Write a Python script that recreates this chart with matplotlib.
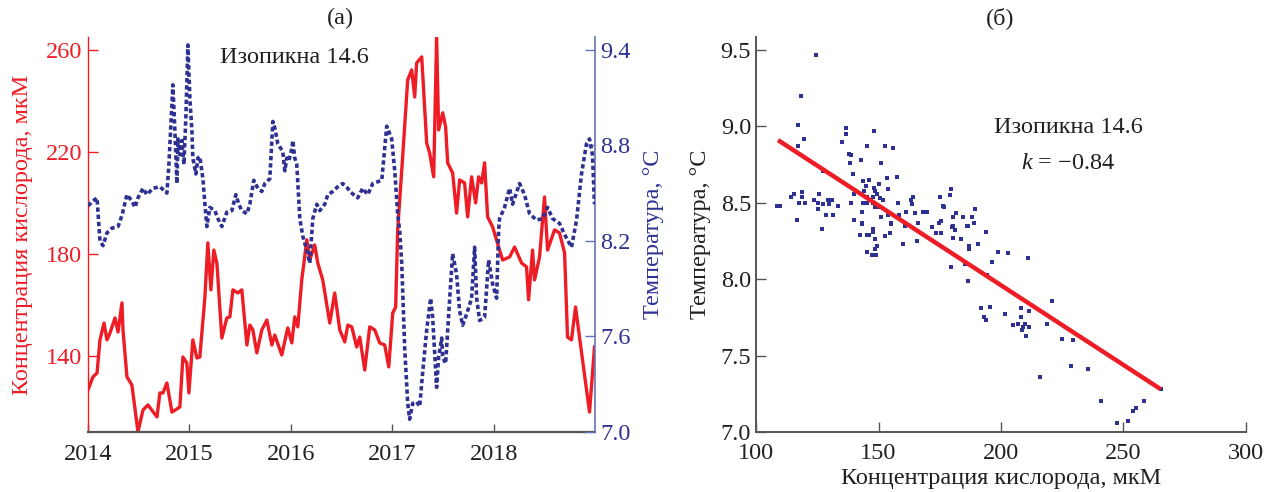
import matplotlib
matplotlib.use("Agg")
import matplotlib.pyplot as plt
from matplotlib import font_manager
import numpy as np

names = {f.name for f in font_manager.fontManager.ttflist}
serif_list = [n for n in ['Liberation Serif', 'Times New Roman', 'Nimbus Roman', 'DejaVu Serif'] if n in names]
plt.rcParams['font.family'] = 'serif'
plt.rcParams['font.serif'] = serif_list + ['DejaVu Serif']
plt.rcParams['mathtext.fontset'] = 'custom'
plt.rcParams['mathtext.rm'] = serif_list[0] if serif_list else 'DejaVu Serif'
plt.rcParams['mathtext.it'] = (serif_list[0] if serif_list else 'DejaVu Serif') + ':italic'

# ---------------- data ----------------
# (а) oxygen time series
oxy_year = [2014.000, 2014.049, 2014.089, 2014.118, 2014.158, 2014.187, 2014.217, 2014.266, 2014.296, 2014.335,
            2014.345, 2014.384, 2014.433, 2014.493, 2014.542, 2014.591, 2014.680, 2014.709, 2014.739, 2014.778,
            2014.828, 2014.906, 2014.936, 2014.975, 2014.995, 2015.034, 2015.074, 2015.103, 2015.153, 2015.182,
            2015.212, 2015.241, 2015.271, 2015.320, 2015.369, 2015.399, 2015.429, 2015.478, 2015.517, 2015.567,
            2015.596, 2015.626, 2015.665, 2015.714, 2015.764, 2015.813, 2015.842, 2015.911, 2015.970, 2016.010,
            2016.039, 2016.069, 2016.108, 2016.158, 2016.187, 2016.236, 2016.266, 2016.315, 2016.384, 2016.433,
            2016.483, 2016.532, 2016.562, 2016.601, 2016.650, 2016.680, 2016.729, 2016.778, 2016.828, 2016.877,
            2016.926, 2016.966, 2017.005, 2017.034, 2017.054, 2017.103, 2017.153, 2017.192, 2017.222, 2017.241,
            2017.291, 2017.340, 2017.369, 2017.409, 2017.438, 2017.458, 2017.498, 2017.527, 2017.547, 2017.596,
            2017.635, 2017.665, 2017.714, 2017.744, 2017.783, 2017.823, 2017.852, 2017.882, 2017.911, 2017.941,
            2017.990, 2018.059, 2018.089, 2018.158, 2018.207, 2018.276, 2018.325, 2018.345, 2018.384, 2018.404,
            2018.453, 2018.502, 2018.532, 2018.601, 2018.650, 2018.700, 2018.729, 2018.768, 2018.808, 2018.847,
            2018.946, 2018.995]
oxy_value = [126.7, 131.8, 133.3, 146.3, 152.9, 146.3, 149.0, 154.9, 149.4, 160.8,
             150.2, 131.8, 128.6, 110.2, 118.8, 120.8, 116.1, 125.5, 125.5, 129.4,
             118.0, 120.0, 139.6, 137.2, 125.5, 146.3, 139.2, 139.6, 163.1, 184.3,
             165.9, 181.5, 176.4, 147.0, 154.9, 155.3, 165.9, 164.7, 165.9, 144.3,
             152.1, 150.2, 141.2, 150.2, 154.1, 144.3, 148.2, 140.4, 151.0, 145.1,
             155.3, 151.4, 169.8, 185.5, 177.6, 183.5, 176.4, 169.8, 152.9, 164.7,
             150.2, 145.5, 152.1, 151.4, 143.5, 147.4, 134.5, 151.4, 150.2, 145.1,
             144.3, 135.7, 156.8, 159.2, 189.4, 218.0, 248.2, 252.1, 241.5, 254.8,
             257.2, 223.5, 219.6, 210.2, 265.0, 228.6, 235.3, 229.8, 215.7, 211.7,
             196.0, 209.0, 207.8, 194.5, 210.2, 200.0, 210.2, 207.8, 215.7, 194.5,
             190.6, 181.5, 177.6, 178.8, 182.7, 176.4, 174.9, 162.0, 181.5, 169.8,
             178.8, 202.3, 181.5, 189.4, 188.2, 180.4, 147.4, 146.3, 159.2, 147.4,
             118.0, 143.5]

# (а) temperature time series
temp_year = [2014.000, 2014.049, 2014.089, 2014.118, 2014.148, 2014.187, 2014.236, 2014.296, 2014.335, 2014.384,
             2014.433, 2014.463, 2014.493, 2014.542, 2014.581, 2014.640, 2014.709, 2014.778, 2014.798, 2014.828,
             2014.837, 2014.857, 2014.877, 2014.887, 2014.906, 2014.926, 2014.946, 2014.966, 2014.985, 2015.005,
             2015.025, 2015.034, 2015.064, 2015.084, 2015.103, 2015.133, 2015.153, 2015.172, 2015.202, 2015.251,
             2015.281, 2015.320, 2015.369, 2015.419, 2015.458, 2015.488, 2015.517, 2015.567, 2015.596, 2015.635,
             2015.675, 2015.714, 2015.744, 2015.793, 2015.823, 2015.842, 2015.872, 2015.921, 2015.941, 2015.961,
             2015.980, 2016.010, 2016.020, 2016.039, 2016.059, 2016.089, 2016.118, 2016.158, 2016.187, 2016.217,
             2016.256, 2016.286, 2016.335, 2016.365, 2016.414, 2016.463, 2016.512, 2016.562, 2016.581, 2016.660,
             2016.709, 2016.759, 2016.808, 2016.897, 2016.946, 2016.995, 2017.025, 2017.054, 2017.074, 2017.094,
             2017.123, 2017.153, 2017.172, 2017.202, 2017.241, 2017.271, 2017.300, 2017.340, 2017.379, 2017.399,
             2017.438, 2017.458, 2017.488, 2017.498, 2017.527, 2017.567, 2017.596, 2017.635, 2017.665, 2017.695,
             2017.734, 2017.783, 2017.813, 2017.833, 2017.862, 2017.911, 2017.951, 2017.990, 2018.030, 2018.049,
             2018.059, 2018.108, 2018.158, 2018.187, 2018.256, 2018.305, 2018.355, 2018.424, 2018.483, 2018.532,
             2018.581, 2018.650, 2018.700, 2018.768, 2018.818, 2018.867, 2018.916, 2018.946, 2018.975, 2018.995]
temp_value = [8.42, 8.45, 8.47, 8.20, 8.17, 8.25, 8.28, 8.29, 8.36, 8.49,
              8.45, 8.41, 8.47, 8.53, 8.49, 8.53, 8.54, 8.50, 8.68, 9.06,
              9.18, 8.89, 8.56, 8.84, 8.74, 8.83, 8.68, 8.99, 9.43, 9.09,
              8.89, 8.72, 8.62, 8.72, 8.73, 8.59, 8.43, 8.29, 8.41, 8.39,
              8.34, 8.29, 8.38, 8.39, 8.49, 8.43, 8.39, 8.37, 8.43, 8.58,
              8.53, 8.51, 8.56, 8.59, 8.95, 8.91, 8.81, 8.76, 8.64, 8.72,
              8.70, 8.78, 8.83, 8.72, 8.68, 8.34, 8.23, 8.14, 8.06, 8.34,
              8.43, 8.39, 8.43, 8.49, 8.51, 8.54, 8.56, 8.53, 8.51, 8.47,
              8.53, 8.49, 8.56, 8.58, 8.92, 8.84, 8.64, 8.37, 8.26, 8.06,
              7.53, 7.18, 7.08, 7.18, 7.19, 7.16, 7.37, 7.64, 7.84, 7.72,
              7.28, 7.47, 7.59, 7.47, 7.43, 7.84, 8.12, 7.99, 7.76, 7.67,
              7.74, 7.84, 8.16, 7.84, 7.70, 7.72, 8.08, 7.93, 7.84, 8.26,
              8.34, 8.41, 8.53, 8.43, 8.56, 8.49, 8.37, 8.33, 8.34, 8.41,
              8.34, 8.31, 8.24, 8.16, 8.33, 8.62, 8.81, 8.84, 8.74, 8.43]

# (б) scatter: oxygen vs temperature
sc_oxy = [124.5, 118.4, 117.1, 119.6, 117.1, 136.7, 136.7, 148.1, 135.1, 145.3,
          152.6, 155.9, 137.9, 138.8, 142.8, 138.4, 151.0, 127.3, 139.6, 157.5,
          153.4, 146.1, 143.7, 150.2, 144.9, 148.1, 153.9, 179.6, 144.1, 148.6,
          149.4, 115.5, 118.8, 125.7, 140.0, 179.2, 175.1, 145.3, 147.7, 164.1,
          114.3, 118.8, 150.6, 151.8, 123.7, 129.4, 131.0, 163.2, 108.6, 109.8,
          117.5, 120.0, 125.3, 127.3, 129.8, 133.5, 138.8, 143.7, 145.3, 147.7,
          157.9, 163.6, 176.3, 176.7, 125.3, 150.2, 148.6, 143.2, 168.1, 169.8,
          181.6, 184.5, 189.4, 128.6, 131.4, 151.0, 153.9, 158.3, 161.2, 164.9,
          116.7, 140.0, 175.5, 180.4, 188.1, 143.2, 155.1, 166.1, 174.7, 180.4,
          186.1, 188.9, 126.9, 147.7, 171.8, 143.2, 142.4, 145.3, 146.1, 147.7,
          148.6, 149.4, 148.6, 149.0, 147.3, 145.3, 152.6, 154.7, 155.1, 160.0,
          160.8, 165.7, 166.1, 173.4, 175.5, 180.0, 180.4, 181.2, 183.6, 186.5,
          186.9, 186.9, 190.6, 193.8, 185.3, 179.6, 186.5, 196.3, 198.7, 202.8,
          194.2, 211.0, 220.8, 191.8, 195.5, 201.6, 208.1, 208.1, 211.4, 193.0,
          193.8, 204.9, 206.9, 208.9, 209.8, 211.4, 208.5, 210.2, 218.7, 224.8,
          229.3, 228.5, 235.5, 215.9, 240.8, 247.3, 251.8, 253.8, 255.0, 258.3,
          265.2]
sc_temp = [9.47, 9.20, 9.01, 8.92, 8.87, 8.99, 8.95, 8.97, 8.90, 8.87,
           8.87, 8.86, 8.82, 8.81, 8.78, 8.76, 8.76, 8.71, 8.69, 8.67,
           8.66, 8.65, 8.64, 8.62, 8.61, 8.60, 8.59, 8.59, 8.58, 8.58,
           8.56, 8.56, 8.57, 8.56, 8.56, 8.55, 8.54, 8.54, 8.54, 8.54,
           8.54, 8.54, 8.53, 8.52, 8.52, 8.52, 8.52, 8.52, 8.48, 8.48,
           8.50, 8.50, 8.50, 8.49, 8.49, 8.48, 8.50, 8.50, 8.50, 8.50,
           8.50, 8.49, 8.48, 8.47, 8.46, 8.47, 8.47, 8.44, 8.44, 8.44,
           8.43, 8.41, 8.46, 8.42, 8.42, 8.41, 8.42, 8.42, 8.44, 8.43,
           8.39, 8.39, 8.38, 8.41, 8.41, 8.37, 8.37, 8.37, 8.37, 8.35,
           8.35, 8.37, 8.33, 8.33, 8.34, 8.36, 8.29, 8.29, 8.29, 8.31,
           8.26, 8.22, 8.20, 8.16, 8.16, 8.18, 8.28, 8.30, 8.36, 8.23,
           8.35, 8.25, 8.37, 8.30, 8.30, 8.34, 8.27, 8.32, 8.26, 8.35,
           8.22, 8.20, 8.23, 8.31, 8.10, 8.08, 7.99, 8.11, 8.18, 8.17,
           8.03, 8.14, 7.86, 7.81, 7.82, 7.77, 7.81, 7.75, 7.79, 7.75,
           7.73, 7.70, 7.71, 7.69, 7.71, 7.69, 7.67, 7.63, 7.71, 7.61,
           7.60, 7.43, 7.41, 7.36, 7.20, 7.06, 7.07, 7.14, 7.16, 7.20,
           7.28]

# regression line end points (б)
fit_oxy = [109.0, 265.2]
fit_temp = [8.91, 7.28]

year_ticks = [2014, 2015, 2016, 2017, 2018]
oxy_ticks = [140, 180, 220, 260]
temp_ticks_a = [7.0, 7.6, 8.2, 8.8, 9.4]
oxy_ticks_b = [100, 150, 200, 250, 300]
temp_ticks_b = [7.0, 7.5, 8.0, 8.5, 9.0, 9.5]

# ---------------- style ----------------
RED = '#ee1c25'
BLUE = '#2e3192'
BLUE_SPINE = '#6673b8'
GREY = '#555555'
TXT = '#231f20'
FS = 17.5

fig = plt.figure(figsize=(12.68, 4.92), dpi=100)

# ---------- panel (а) ----------
ax1 = fig.add_axes([88/1268, 60/492, (595-88)/1268, 395/492])
ax1.plot(oxy_year, oxy_value, color=RED, lw=2.4, solid_joinstyle='round', zorder=2)
ax1.set_xlim(2014, 2019)
ax1.set_ylim(110.2, 265)
ax1.set_xticks(year_ticks)
ax1.set_xticklabels([str(y) for y in year_ticks], color=TXT, fontsize=FS)
ax1.set_yticks(oxy_ticks)
ax1.set_yticklabels([str(v) for v in oxy_ticks], color=RED, fontsize=FS)
ax1.tick_params(axis='y', direction='in', length=7, width=1, colors=RED, labelcolor=RED, pad=4)
ax1.tick_params(axis='x', direction='in', length=6, width=1, color=GREY, labelcolor=TXT, pad=9)
ax1.spines['top'].set_visible(False)
ax1.spines['right'].set_visible(False)
ax1.spines['left'].set_color(RED)
ax1.spines['left'].set_linewidth(1)
ax1.spines['bottom'].set_color(GREY)
ax1.spines['bottom'].set_linewidth(1.6)
ax1.set_ylabel('Концентрация кислорода, мкМ', color=RED, fontsize=FS)
ax1.yaxis.set_label_coords(-0.108, 0.5)
ax1.text(0.408, 0.947, 'Изопикна 14.6', transform=ax1.transAxes, ha='center', va='center',
         fontsize=FS, color=TXT)

ax2 = ax1.twinx()
ax2.plot(temp_year, temp_value, color=BLUE, lw=2.6, linestyle=(0, (1.2, 0.8)),
         dash_capstyle='butt', zorder=3)
ax2.set_ylim(7.0, 9.48)
ax2.set_yticks(temp_ticks_a)
ax2.set_yticklabels([f'{v:.1f}' for v in temp_ticks_a], color=BLUE, fontsize=FS)
ax2.tick_params(axis='y', direction='in', length=7, width=1, colors=BLUE_SPINE, labelcolor=BLUE, pad=4)
for s in ['top', 'left', 'bottom']:
    ax2.spines[s].set_visible(False)
ax2.spines['right'].set_color(BLUE_SPINE)
ax2.spines['right'].set_linewidth(1.2)
ax2.set_ylabel('Температура, °C', color=BLUE, fontsize=FS)
ax2.yaxis.set_label_coords(1.095, 0.5)

fig.text(340/1268, 1 - 18/492, '(а)', ha='center', va='center', fontsize=FS, color=TXT)

# ---------- panel (б) ----------
ax3 = fig.add_axes([756/1268, 60/492, (1246-756)/1268, 395/492])
ax3.scatter(sc_oxy, sc_temp, marker='s', s=8, color=BLUE, linewidths=0, zorder=2)
ax3.plot(fit_oxy, fit_temp, color=RED, lw=3.2, solid_capstyle='butt', zorder=3)
ax3.set_xlim(100, 300)
ax3.set_ylim(7.0, 9.585)
ax3.set_xticks(oxy_ticks_b)
ax3.set_xticklabels([str(v) for v in oxy_ticks_b], fontsize=FS, color=TXT)
ax3.set_yticks(temp_ticks_b)
ax3.set_yticklabels([f'{v:.1f}' for v in temp_ticks_b], fontsize=FS, color=TXT)
ax3.tick_params(axis='both', direction='in', length=7, width=1, color=GREY, labelcolor=TXT)
ax3.tick_params(axis='x', pad=8)
ax3.spines['top'].set_visible(False)
ax3.spines['right'].set_visible(False)
for s in ['left', 'bottom']:
    ax3.spines[s].set_color(GREY)
    ax3.spines[s].set_linewidth(1.4)
ax3.set_xlabel('Концентрация кислорода, мкМ', fontsize=FS, color=TXT)
ax3.xaxis.set_label_coords(0.5, -0.09)
ax3.set_ylabel('Температура, °C', fontsize=FS, color=TXT)
ax3.yaxis.set_label_coords(-0.092, 0.5)
ax3.text(0.637, 0.770, 'Изопикна 14.6', transform=ax3.transAxes, ha='center', va='center',
         fontsize=FS, color=TXT)
ax3.text(0.637, 0.681, r'$k$ = −0.84', transform=ax3.transAxes, ha='center', va='center',
         fontsize=FS, color=TXT)

fig.text(1000/1268, 1 - 18/492, '(б)', ha='center', va='center', fontsize=FS, color=TXT)

fig.savefig('out.png', dpi=100)
